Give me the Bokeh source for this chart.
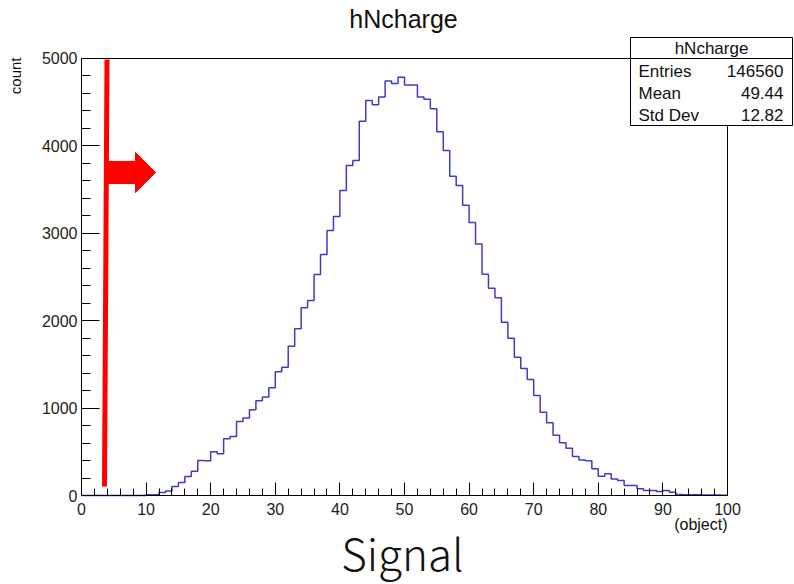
import math
from bokeh.plotting import figure
from bokeh.models import (Label, BoxAnnotation, Range1d, SingleIntervalTicker,
                          FixedTicker, LinearAxis)
from bokeh.embed import file_html
from bokeh.resources import INLINE

# ---------------- data ----------------
bin_edges = list(range(0, 101))
counts = [
    0, 0, 0, 0, 0, 0, 0, 0, 0, 0,
    8, 8, 35, 52, 103, 149, 217, 278, 400, 398,
    499, 476, 648, 674, 847, 886, 979, 1082, 1127, 1231,
    1414, 1467, 1707, 1905, 2145, 2229, 2526, 2754, 3029, 3189,
    3486, 3771, 3829, 4276, 4514, 4467, 4553, 4736, 4710, 4781,
    4692, 4692, 4553, 4528, 4419, 4157, 3943, 3650, 3543, 3318,
    3120, 2875, 2528, 2370, 2260, 1981, 1798, 1581, 1452, 1326,
    1143, 952, 831, 690, 604, 541, 446, 405, 398, 305,
    221, 248, 190, 171, 114, 114, 76, 57, 57, 46,
    57, 38, 12, 10, 8, 9, 7, 6, 5, 4,
]
hist_name = "hNcharge"
stat_names = ["Entries", "Mean", "Std Dev"]
stat_values = ["146560", "49.44", "12.82"]
x_label = "(object)"
y_label = "count"
caption = "Signal"

# ---------------- layout helpers ----------------
W, H = 794, 584
FL, FR, FT, FB = 81, 727, 57.5, 495
XMIN, XMAX, YMIN, YMAX = 0, 100, 0, 5000
SHIFT = 0.36  # baseline correction, in em


def fx(px):
    return XMIN + (px - FL) * (XMAX - XMIN) / (FR - FL)


def fy(py):
    return YMIN + (FB - py) * (YMAX - YMIN) / (FB - FT)


FONT = "Liberation Sans"

# the frame covers the whole canvas; axes are pinned at the histogram's edges
p = figure(width=W, height=H, x_range=Range1d(fx(0), fx(W)), y_range=Range1d(fy(H), fy(0)),
           output_backend="svg", toolbar_location=None, min_border=0,
           x_axis_location=None, y_axis_location=None)
p.title.visible = False
p.grid.visible = False
p.background_fill_color = "white"
p.border_fill_color = "white"
p.outline_line_color = None


def style_axis(ax, tick_in, minor_in, standoff):
    ax.axis_line_color = "black"
    ax.major_tick_line_color = "black"
    ax.minor_tick_line_color = "black"
    ax.major_tick_out = 0
    ax.minor_tick_out = 0
    ax.major_tick_in = tick_in
    ax.minor_tick_in = minor_in
    ax.major_label_text_font = FONT
    ax.major_label_text_font_size = "16px"
    ax.major_label_text_color = "#222222"
    ax.major_label_standoff = standoff


xax = LinearAxis(fixed_location=YMIN, bounds=(XMIN, XMAX),
                 ticker=SingleIntervalTicker(interval=10, num_minor_ticks=5))
style_axis(xax, 13, 7, 7)
p.add_layout(xax, "below")

yax = LinearAxis(fixed_location=XMIN, bounds=(YMIN, YMAX),
                 ticker=SingleIntervalTicker(interval=1000, num_minor_ticks=5))
style_axis(yax, 18, 9, 4)
p.add_layout(yax, "left")

# frame top and right edges (no ticks)
tax = LinearAxis(fixed_location=YMAX, bounds=(XMIN, XMAX), ticker=FixedTicker(ticks=[]))
style_axis(tax, 0, 0, 0)
p.add_layout(tax, "above")
rax = LinearAxis(fixed_location=XMAX, bounds=(YMIN, YMAX), ticker=FixedTicker(ticks=[]))
style_axis(rax, 0, 0, 0)
p.add_layout(rax, "right")

# histogram
p.step(x=bin_edges, y=counts + [counts[-1]], mode="after",
       line_color="#3d3dc2", line_width=1.5)

# red annotation: vertical cut line and arrow
p.line(x=[fx(106.5), fx(104)], y=[fy(59), fy(486)], line_color="red", line_width=5)
arrow_px = [(105, 161), (135, 161), (135, 152), (155, 172), (135, 192), (135, 183), (105, 183)]
p.patch(x=[fx(a) for a, b in arrow_px], y=[fy(b) for a, b in arrow_px],
        fill_color="red", line_color="red", line_width=1)


def text(px, py, s, size, align, font=FONT, angle=0.0, level="annotation"):
    if angle:
        xx, yy = px - SHIFT * size, py
    else:
        xx, yy = px, py - SHIFT * size
    p.add_layout(Label(x=fx(xx), y=fy(yy), text=s, text_font=font,
                       text_font_size=f"{size}px", text_align=align,
                       text_baseline="alphabetic", angle=angle,
                       text_color="#111111", level=level))


# title and axis labels
text(403, 27, hist_name, 25, "center")
text(20, 57, y_label, 15, "right", angle=math.pi / 2)
text(727, 530, x_label, 16, "right")

# stats box
p.add_layout(BoxAnnotation(left=fx(630), right=fx(792), top=fy(37), bottom=fy(58),
                           fill_color="white", fill_alpha=1, line_color="black",
                           line_alpha=1, line_width=1, level="overlay"))
p.add_layout(BoxAnnotation(left=fx(630), right=fx(792), top=fy(58), bottom=fy(125),
                           fill_color="white", fill_alpha=1, line_color="black",
                           line_alpha=1, line_width=1, level="overlay"))
text(711, 54, hist_name, 17, "center", level="overlay")
for i, (nm, vl) in enumerate(zip(stat_names, stat_values)):
    base = 77 + 22 * i
    text(638, base, nm, 17, "left", level="overlay")
    text(783, base, vl, 17, "right", level="overlay")

# caption
text(402, 567, caption, 44, "center", font="'Noto Sans CJK JP Light', 'Noto Sans CJK JP'")

open("out.html", "w").write(file_html(p, INLINE))
